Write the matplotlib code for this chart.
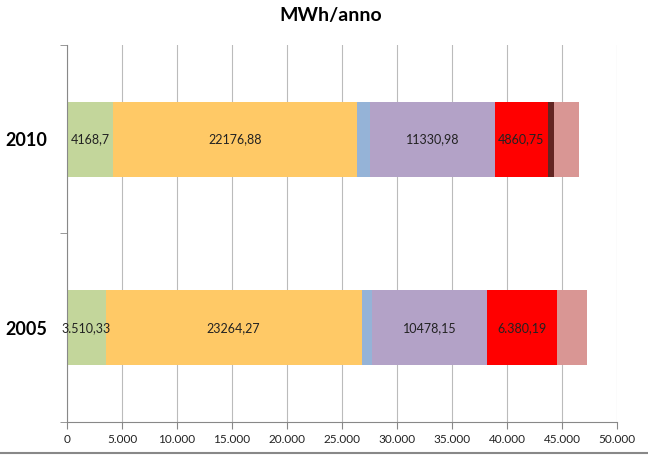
#!/usr/bin/env python3

"""Stacked horizontal bars of MWh/anno for 2005 and 2010."""

import matplotlib

matplotlib.use("Agg")
import matplotlib.pyplot as plt
from matplotlib.lines import Line2D

plt.rcParams["font.family"] = ["Lato", "DejaVu Sans"]

years = ["2010", "2005"]
segment_colors = ["#C3D69B", "#FFC966", "#95B3D7", "#B3A2C7", "#FF0000", "#632523", "#D99694"]
values_2010 = [4168.7, 22176.88, 1200, 11330.98, 4860.75, 550, 2300]
values_2005 = [3510.33, 23264.27, 950, 10478.15, 6380.19, 0, 2700]
labels_2010 = ["4168,7", "22176,88", "", "11330,98", "4860,75", "", ""]
labels_2005 = ["3.510,33", "23264,27", "", "10478,15", "6.380,19", "", ""]
x_ticks = [0, 5000, 10000, 15000, 20000, 25000, 30000, 35000, 40000, 45000, 50000]
x_tick_labels = ["0", "5.000", "10.000", "15.000", "20.000", "25.000",
                 "30.000", "35.000", "40.000", "45.000", "50.000"]


def main() -> None:
    fig = plt.figure(figsize=(6.48, 4.57), dpi=100)
    ax = fig.add_axes((0.1034, 0.0766, 0.8488, 0.825))

    rows = [(1, values_2010, labels_2010), (0, values_2005, labels_2005)]
    for ypos, values, labels in rows:
        left = 0.0
        for value, color, label in zip(values, segment_colors, labels):
            ax.barh(ypos, value, left=left, height=0.4, color=color, edgecolor="none", zorder=2)
            if label:
                ax.text(left + value / 2, ypos, label, ha="center", va="center",
                        fontsize=9, color="#222222", zorder=3)
            left += value

    ax.set_xlim(0, 50000)
    ax.set_ylim(-0.5, 1.5)
    ax.set_xticks(x_ticks)
    ax.set_xticklabels(x_tick_labels, fontsize=8.5, color="#222222")
    ax.set_yticks([0, 1])
    ax.set_yticklabels(["2005", "2010"], fontsize=13, fontweight="bold")
    ax.set_yticks([-0.5, 0.5, 1.5], minor=True)
    ax.tick_params(axis="y", which="major", length=0, pad=14)
    ax.tick_params(axis="y", which="minor", length=5, color="#888888")
    ax.tick_params(axis="x", length=5, color="#888888")

    ax.grid(axis="x", color="#BBBBBB", linewidth=0.8, zorder=0)
    for side in ("top", "right"):
        ax.spines[side].set_visible(False)
    for side in ("left", "bottom"):
        ax.spines[side].set_color("#888888")

    fig.text(0.51, 0.965, "MWh/anno", ha="center", va="center", fontsize=14, fontweight="bold")
    fig.add_artist(Line2D([0, 1], [0.008, 0.008], color="#888888", linewidth=1.5,
                          transform=fig.transFigure))

    fig.savefig("out.png", dpi=100)
    plt.close(fig)


if __name__ == "__main__":
    main()
